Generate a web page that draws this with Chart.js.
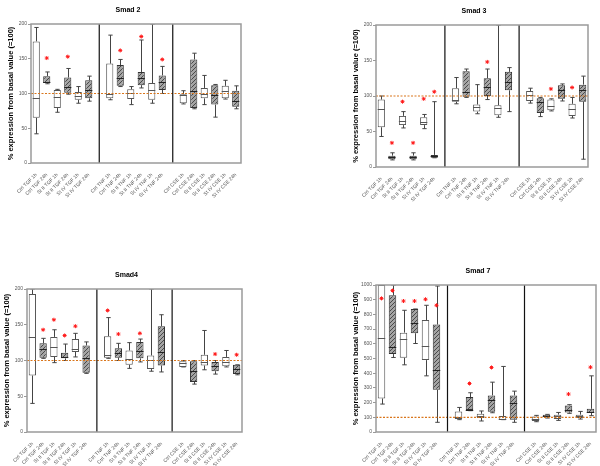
<!DOCTYPE html>
<html>
<head>
<meta charset="utf-8">
<script src="https://cdn.jsdelivr.net/npm/chart.js@4"></script>
<style>
    body { margin: 0; background: #fff; width: 600px; height: 466px; position: relative; overflow: hidden; }
    canvas { position: absolute; }
</style>
</head>
<body>
<canvas id="c1"></canvas>
<canvas id="c2"></canvas>
<canvas id="c3"></canvas>
<canvas id="c4"></canvas>
<script>
// --- Data ---
const categories = [
    'Ctrl TGF 1h', 'Ctrl TGF 24h', 'St II TGF 1h', 'St II TGF 24h', 'St IV TGF 1h', 'St IV TGF 24h',
    'Ctrl TNF 1h', 'Ctrl TNF 24h', 'St II TNF 1h', 'St II TNF 24h', 'St IV TNF 1h', 'St IV TNF 24h',
    'Ctrl CSE 1h', 'Ctrl CSE 24h', 'St II CSE 1h', 'St II CSE 24h', 'St IV CSE 1h', 'St IV CSE 24h'
];
const yTitle = '% expression from basal value (=100)';
const basalValue = 100;

const smad2Min = [42, 114, 73, 99, 86, 89, 91, 110, 84, 108, 86, 100, 85, 78, 84, 66, 92, 78];
const smad2Q1 = [65, 115, 79, 101, 91, 93, 93, 111, 92, 112, 91, 105, 86, 79, 93, 84, 93, 81];
const smad2Med = [93, 116, 95, 110, 96, 105, 100, 122, 101, 122, 105, 117, 98, 103, 99, 98, 104, 89];
const smad2Q3 = [175, 125, 105, 123, 102, 119, 143, 141, 106, 131, 115, 126, 99, 149, 108, 112, 111, 104];
const smad2Max = [195, 131, 106, 136, 110, 125, 184, 149, 110, 177, 200, 139, 104, 158, 126, 113, 119, 111];
const smad2Star = [null, 151, null, 153, null, null, null, 162, null, 182, null, 149, null, null, null, null, null, null];

const smad3Min = [43, 10, 55, 10, 54, 13, 89, 98, 75, 95, 70, 78, 90, 71, 79, 93, 69, 11];
const smad3Q1 = [56, 11, 59, 11, 59, 13, 92, 99, 78, 100, 73, 108, 93, 76, 80, 96, 72, 92];
const smad3Med = [81, 14, 65, 14, 64, 15, 95, 105, 85, 112, 83, 120, 101, 92, 86, 109, 82, 108];
const smad3Q3 = [95, 16, 72, 16, 70, 17, 111, 135, 88, 125, 87, 134, 107, 97, 95, 115, 89, 116];
const smad3Max = [100, 20, 78, 20, 74, 92, 126, 138, 116, 138, 200, 140, 111, 98, 96, 117, 98, 128];
const smad3Star = [null, 34, 92, 34, 96, 106, null, null, null, 148, null, null, null, null, 110, null, 112, null];

const smad4Min = [40, 103, 97, 100, 105, 82, 103, 100, 89, 98, 85, 84, 91, 67, 87, 81, 91, 80];
const smad4Q1 = [79, 104, 105, 103, 112, 83, 104, 104, 94, 103, 88, 93, 91, 70, 93, 85, 92, 81];
const smad4Med = [133, 116, 119, 105, 116, 104, 107, 111, 102, 113, 101, 112, 96, 85, 98, 93, 98, 88];
const smad4Q3 = [193, 124, 133, 111, 130, 121, 134, 117, 114, 126, 107, 148, 99, 99, 108, 98, 105, 94];
const smad4Max = [200, 131, 143, 123, 138, 126, 160, 124, 125, 130, 200, 164, 100, 100, 142, 100, 114, 94];
const smad4Star = [null, 143, 157, 135, 148, null, 170, 137, null, 138, null, null, null, null, null, 109, null, 108];

const smad7Min = [190, 507, 457, 602, 382, 66, 84, 145, 75, 131, 84, 66, 70, 95, 79, 127, 88, 111];
const smad7Q1 = [228, 530, 505, 672, 489, 287, 88, 149, 95, 138, 84, 84, 75, 100, 88, 133, 95, 129];
const smad7Med = [640, 575, 633, 740, 586, 423, 100, 152, 106, 219, 88, 199, 88, 106, 106, 152, 109, 138];
const smad7Q3 = [1000, 930, 676, 837, 762, 731, 140, 238, 124, 249, 109, 249, 106, 118, 118, 181, 118, 158];
const smad7Max = [1000, 1000, 828, 837, 862, 993, 167, 267, 143, 339, 446, 278, 113, 120, 133, 186, 140, 382];
const smad7Star = [909, 962, 891, 891, 903, 862, null, 330, null, 439, null, null, null, null, null, 258, null, 441];

// --- Layout helpers ---
const PAD_L = 3, Y_W = 25, PAD_T = 24, X_H = 44, PAD_R = 6;
const GROUP = 6; // boxes per stimulus group, one empty slot between groups

Chart.defaults.font.family = 'Arial, "Liberation Sans", sans-serif';

// spread 18 category values over 20 slots (gap slot between groups)
function toSlots(arr) {
    const out = [];
    arr.forEach((v, i) => {
        if (i > 0 && i % GROUP === 0) out.push(null);
        out.push(v);
    });
    return out;
}
const slotLabels = toSlots(categories).map(l => l === null ? '' : l);
const gapSlots = [GROUP, GROUP * 2 + 1];
const isHatched = toSlots(categories.map((c, i) => i % 2 === 1));

function hatchPattern() {
    const c = document.createElement('canvas');
    c.width = 4; c.height = 4;
    const g = c.getContext('2d');
    g.fillStyle = '#a4a4a4';
    g.fillRect(0, 0, 4, 4);
    g.strokeStyle = '#4a4a4a';
    g.lineWidth = 1;
    g.beginPath();
    g.moveTo(0, 4); g.lineTo(4, 0);
    g.moveTo(-1, 1); g.lineTo(1, -1);
    g.moveTo(3, 5); g.lineTo(5, 3);
    g.stroke();
    return g.createPattern(c, 'repeat');
}

const boxPlugin = {
    id: 'boxExtras',
    beforeDatasetsDraw(chart) {
        const { ctx, scales: { x, y } } = chart;
        const p = chart.options.plugins.boxExtras;
        const meta = chart.getDatasetMeta(0);
        ctx.save();
        ctx.beginPath();
        ctx.rect(chart.chartArea.left, chart.chartArea.top, chart.chartArea.width, chart.chartArea.height + 1);
        ctx.clip();
        ctx.strokeStyle = '#444';
        ctx.lineWidth = 1;
        p.min.forEach((lo, i) => {
            if (lo === null) return;
            const cx = Math.round(x.getPixelForValue(i)) + 0.5;
            const half = meta.data[i].width / 2;
            const cap = half * 0.6;
            const yLo = y.getPixelForValue(lo), yQ1 = y.getPixelForValue(p.q1[i]);
            const yHi = y.getPixelForValue(p.max[i]), yQ3 = y.getPixelForValue(p.q3[i]);
            ctx.beginPath();
            ctx.moveTo(cx, yQ1); ctx.lineTo(cx, yLo);
            ctx.moveTo(cx, yQ3); ctx.lineTo(cx, yHi);
            ctx.moveTo(cx - cap, yLo); ctx.lineTo(cx + cap, yLo);
            ctx.moveTo(cx - cap, yHi); ctx.lineTo(cx + cap, yHi);
            ctx.stroke();
        });
        ctx.restore();
    },
    afterDatasetsDraw(chart) {
        const { ctx, chartArea: a, scales: { x, y } } = chart;
        const p = chart.options.plugins.boxExtras;
        const meta = chart.getDatasetMeta(0);
        ctx.save();
        // medians
        ctx.lineWidth = 1;
        p.med.forEach((m, i) => {
            if (m === null) return;
            const bar = meta.data[i];
            const ym = Math.round(y.getPixelForValue(m)) + 0.5;
            ctx.strokeStyle = isHatched[i] ? '#222' : '#555';
            ctx.beginPath();
            ctx.moveTo(bar.x - bar.width / 2, ym);
            ctx.lineTo(bar.x + bar.width / 2, ym);
            ctx.stroke();
        });
        // basal value reference line
        const yb = y.getPixelForValue(basalValue);
        ctx.strokeStyle = '#d9761c';
        ctx.lineWidth = 1.2;
        ctx.setLineDash([2, 1.5]);
        ctx.beginPath();
        ctx.moveTo(a.left, yb); ctx.lineTo(a.right, yb);
        ctx.stroke();
        ctx.setLineDash([]);
        // group dividers
        ctx.strokeStyle = '#111';
        ctx.lineWidth = 1.2;
        gapSlots.forEach(s => {
            const gx = x.getPixelForValue(s);
            ctx.beginPath();
            ctx.moveTo(gx, a.top); ctx.lineTo(gx, a.bottom);
            ctx.stroke();
        });
        // frame
        ctx.strokeStyle = '#9a9a9a';
        ctx.lineWidth = 1.5;
        ctx.strokeRect(a.left, a.top, a.width, a.height);
        // panel title
        ctx.fillStyle = '#000';
        ctx.font = 'bold 7px Arial, "Liberation Sans", sans-serif';
        ctx.textAlign = 'center';
        ctx.textBaseline = 'middle';
        ctx.fillText(p.title, (a.left + a.right) / 2 - 8, a.top - 14);
        ctx.restore();
    }
};

function makePanel(id, title, box, yMax, yStep, mins, q1s, meds, q3s, maxs, stars) {
    const canvas = document.getElementById(id);
    const w = PAD_L + Y_W + (box.right - box.left) + PAD_R;
    const h = PAD_T + (box.bottom - box.top) + X_H;
    canvas.width = w;
    canvas.height = h;
    canvas.style.left = (box.left - PAD_L - Y_W) + 'px';
    canvas.style.top = (box.top - PAD_T) + 'px';

    const q1 = toSlots(q1s), q3 = toSlots(q3s);
    const hatch = hatchPattern();
    const boxes = q1.map((v, i) => v === null ? null : [v, q3[i]]);

    new Chart(canvas, {
        data: {
            labels: slotLabels,
            datasets: [
                {
                    type: 'bar',
                    data: boxes,
                    backgroundColor: isHatched.map(hh => hh ? hatch : '#fff'),
                    borderColor: isHatched.map(hh => hh ? '#333' : '#555'),
                    borderWidth: 1,
                    borderSkipped: false,
                    barPercentage: 0.68,
                    categoryPercentage: 1,
                    order: 2
                },
                {
                    type: 'line',
                    data: toSlots(stars),
                    showLine: false,
                    pointStyle: 'star',
                    pointRadius: 2,
                    pointBorderWidth: 1,
                    pointBorderColor: '#ff1a1a',
                    pointBackgroundColor: '#ff1a1a',
                    order: 1
                }
            ]
        },
        options: {
            responsive: false,
            animation: false,
            layout: { padding: { left: PAD_L, top: PAD_T, right: PAD_R, bottom: 0 } },
            plugins: {
                legend: { display: false },
                tooltip: { enabled: false },
                boxExtras: {
                    title: title,
                    min: toSlots(mins), q1: q1, med: toSlots(meds), q3: q3, max: toSlots(maxs)
                }
            },
            scales: {
                x: {
                    type: 'category',
                    offset: true,
                    grid: { display: false },
                    border: { display: false },
                    ticks: {
                        autoSkip: false,
                        minRotation: 45,
                        maxRotation: 45,
                        padding: 1,
                        color: '#555',
                        font: { size: 5 }
                    },
                    afterFit(scale) { scale.height = X_H; }
                },
                y: {
                    min: 0,
                    max: yMax,
                    grid: { drawOnChartArea: false, drawTicks: true, tickLength: 3, color: '#999' },
                    border: { display: false },
                    ticks: {
                        stepSize: yStep,
                        padding: 1,
                        color: '#555',
                        font: { size: 5 },
                        callback: v => String(v)
                    },
                    title: {
                        display: true,
                        text: yTitle,
                        color: '#000',
                        padding: 0,
                        font: { size: 7.5, weight: 'bold' }
                    },
                    afterFit(scale) { scale.width = Y_W; }
                }
            }
        },
        plugins: [boxPlugin]
    });
}

makePanel('c1', 'Smad 2', { left: 31, top: 24, right: 241, bottom: 163 }, 200, 50,
    smad2Min, smad2Q1, smad2Med, smad2Q3, smad2Max, smad2Star);
makePanel('c2', 'Smad 3', { left: 376, top: 25, right: 588, bottom: 167 }, 200, 50,
    smad3Min, smad3Q1, smad3Med, smad3Q3, smad3Max, smad3Star);
makePanel('c3', 'Smad4', { left: 27, top: 289, right: 242, bottom: 432 }, 200, 50,
    smad4Min, smad4Q1, smad4Med, smad4Q3, smad4Max, smad4Star);
makePanel('c4', 'Smad 7', { left: 376, top: 285, right: 596, bottom: 432 }, 1000, 100,
    smad7Min, smad7Q1, smad7Med, smad7Q3, smad7Max, smad7Star);
</script>
</body>
</html>
